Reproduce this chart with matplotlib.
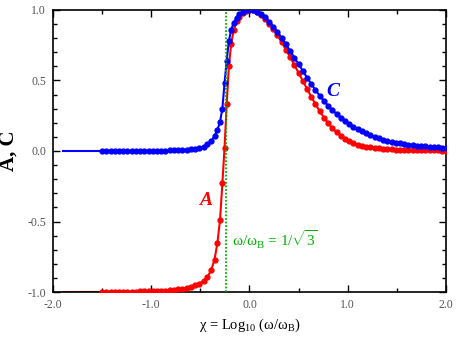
import numpy as np
import matplotlib
matplotlib.use("Agg")
import matplotlib.pyplot as plt
from matplotlib.ticker import MultipleLocator, FormatStrFormatter

plt.rcParams['font.family'] = ['Liberation Serif', 'DejaVu Serif']
plt.rcParams['mathtext.fontset'] = 'custom'
plt.rcParams['mathtext.rm'] = 'Liberation Serif'
plt.rcParams['mathtext.it'] = 'Liberation Serif:italic'
plt.rcParams['mathtext.bf'] = 'Liberation Serif:bold'
plt.rcParams['axes.unicode_minus'] = False

# chi = log10(w/wB) sample points (shared by both curves)
chi = [-1.500, -1.457, -1.414, -1.371, -1.328, -1.285, -1.242, -1.199, -1.156, -1.113,
       -1.070, -1.027, -0.984, -0.941, -0.898, -0.855, -0.812, -0.769, -0.726, -0.683,
       -0.640, -0.597, -0.554, -0.511, -0.468,
       -0.428, -0.390, -0.356, -0.326, -0.300, -0.276, -0.254, -0.232, -0.210, -0.186,
       -0.160, -0.132, -0.102, -0.070, -0.036, 0.000, 0.037, 0.076, 0.116, 0.157, 0.199,
       0.242, 0.285, 0.328, 0.371, 0.414, 0.457, 0.500, 0.543, 0.586, 0.629,
       0.672, 0.715, 0.758, 0.801, 0.844, 0.887, 0.930, 0.973, 1.016, 1.059,
       1.102, 1.145, 1.188, 1.231, 1.274, 1.317, 1.360, 1.403, 1.446, 1.489,
       1.532, 1.575, 1.618, 1.661, 1.704, 1.747, 1.790, 1.833, 1.876, 1.919,
       1.962, 2.000]

C_vals = [0.000, 0.000, 0.000, 0.000, 0.000, 0.000, 0.001, 0.001, 0.001, 0.001,
          0.001, 0.002, 0.002, 0.002, 0.003, 0.003, 0.004, 0.005, 0.006, 0.007,
          0.009, 0.011, 0.015, 0.021, 0.031,
          0.047, 0.070, 0.105, 0.150, 0.205, 0.300, 0.480, 0.640, 0.780, 0.860,
          0.910, 0.945, 0.970, 0.987, 0.997, 1.000, 0.997, 0.987, 0.970, 0.948, 0.917,
          0.882, 0.842, 0.800, 0.755, 0.710, 0.662, 0.615, 0.568, 0.520, 0.475,
          0.432, 0.392, 0.355, 0.320, 0.290, 0.262, 0.236, 0.212, 0.192, 0.172,
          0.155, 0.139, 0.125, 0.112, 0.100, 0.090, 0.081, 0.073, 0.066, 0.059,
          0.054, 0.049, 0.045, 0.041, 0.038, 0.035, 0.032, 0.030, 0.028, 0.026,
          0.024, 0.023]

A_vals = [-0.999, -0.999, -0.999, -0.998, -0.998, -0.998, -0.997, -0.997, -0.996, -0.995,
          -0.995, -0.994, -0.993, -0.992, -0.991, -0.989, -0.987, -0.984, -0.980, -0.976,
          -0.970, -0.963, -0.953, -0.940, -0.922,
          -0.893, -0.845, -0.770, -0.650, -0.490, -0.230, 0.020, 0.330, 0.600, 0.760,
          0.860, 0.918, 0.953, 0.977, 0.993, 1.000, 0.996, 0.985, 0.965, 0.937, 0.902,
          0.865, 0.820, 0.770, 0.718, 0.665, 0.610, 0.553, 0.497, 0.440, 0.385,
          0.332, 0.282, 0.237, 0.197, 0.162, 0.132, 0.107, 0.087, 0.070, 0.056,
          0.045, 0.036, 0.030, 0.025, 0.021, 0.018, 0.015, 0.013, 0.011, 0.010,
          0.009, 0.008, 0.007, 0.006, 0.006, 0.005, 0.005, 0.004, 0.004, 0.004,
          0.003, 0.003]

# low-frequency tails drawn as plain lines (no markers)
chi_tail = [-1.9, -1.5]
C_tail = [0.0, 0.0]
A_tail = [-1.0, -0.999]

red = '#ff0000'
blue = '#0000ff'
green = '#00b000'

fig = plt.figure(figsize=(4.65, 3.42), dpi=100)
ax = fig.add_axes([0.114, 0.146, 0.845, 0.825])

ax.plot(chi_tail, A_tail, color=red, lw=1.5)
ax.plot(chi_tail, C_tail, color=blue, lw=1.5)
ax.plot(chi, A_vals, color=red, lw=1.5, marker='o', ms=3.5, zorder=3)
ax.plot(chi, C_vals, color=blue, lw=1.5, marker='o', ms=3.5, zorder=4)

chi_b = np.log10(1 / np.sqrt(3))
ax.axvline(chi_b, color=green, lw=1.3, ls=(0, (1, 1)), zorder=5)

ax.text(-0.45, -0.35, 'A', color=red, fontsize=14, fontweight='bold', style='italic',
        ha='center', va='center')
ax.text(0.85, 0.42, 'C', color=blue, fontsize=14, fontweight='bold', style='italic',
        ha='center', va='center')
ax.text(-0.18, -0.63, r'ω/ω$_{\rm B}$ = 1/$\sqrt{3}$', color=green, fontsize=11,
        ha='left', va='center')

ax.set_xlim(-2.0, 2.0)
ax.set_ylim(-1.0, 1.0)
ax.xaxis.set_major_locator(MultipleLocator(1.0))
ax.xaxis.set_minor_locator(MultipleLocator(0.5))
ax.yaxis.set_major_locator(MultipleLocator(0.5))
ax.yaxis.set_minor_locator(MultipleLocator(0.1))
ax.xaxis.set_major_formatter(FormatStrFormatter('%.1f'))
ax.yaxis.set_major_formatter(FormatStrFormatter('%.1f'))
ax.tick_params(which='both', direction='in', top=True, right=True, labelsize=8.5,
               labelcolor='#555555', width=1.0)
ax.tick_params(which='major', length=5, pad=5)
ax.tick_params(which='minor', length=3)
for s in ax.spines.values():
    s.set_linewidth(1.2)

ax.set_xlabel(r'χ = Log$_{10}$ (ω/ω$_{\rm B}$)', fontsize=10.5, labelpad=4)
ax.set_ylabel('A, C', fontsize=15, fontweight='bold', labelpad=6)

fig.savefig('out.png', dpi=100)
